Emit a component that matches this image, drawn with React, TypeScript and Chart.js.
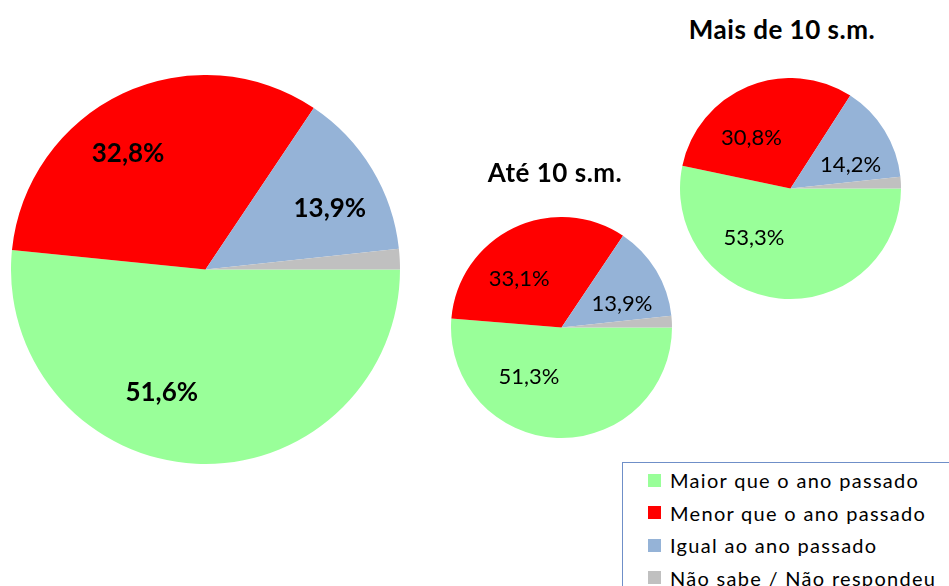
import React, { useEffect, useRef } from "react";
import { Chart, registerables } from "chart.js";

Chart.register(...registerables);

const categories = [
  "Maior que o ano passado",
  "Menor que o ano passado",
  "Igual ao ano passado",
  "Não sabe / Não respondeu",
];
const totalValues = [51.6, 32.8, 13.9, 1.7];
const ate10Values = [51.3, 33.1, 13.9, 1.7];
const mais10Values = [53.3, 30.8, 14.2, 1.7];
const colors = ["#99FF99", "#FF0000", "#95B3D7", "#C0C0C0"];
const titles = ["Até 10 s.m.", "Mais de 10 s.m."];

const FONT = "Lato, 'Open Sans', sans-serif";

// label nudges (fractions of the radius), styling only
const bigNudge = [[-0.19, -0.065], [-0.1, 0.04], [0.04, 0.05]];
const smallNudge = [[-0.27, -0.13], [-0.13, 0.08], [0.05, 0.09]];

const fmt = (v: number) => v.toFixed(1).replace(".", ",") + "%";

type PieProps = {
  values: number[];
  size: number;
  left: number;
  top: number;
  fontSize: number;
  bold: boolean;
  labelRadius: number;
  nudge: number[][];
};

function Pie({ values, size, left, top, fontSize, bold, labelRadius, nudge }: PieProps) {
  const ref = useRef<HTMLCanvasElement | null>(null);
  useEffect(() => {
    if (!ref.current) return;
    const labelPlugin = {
      id: "sliceLabels",
      afterDatasetsDraw(chart: any) {
        const ctx = chart.ctx;
        const meta = chart.getDatasetMeta(0);
        const data = chart.data.datasets[0].data as number[];
        ctx.save();
        ctx.font = `${bold ? "bold" : "normal"} ${fontSize}px ${FONT}`;
        ctx.fillStyle = "#000";
        ctx.textAlign = "center";
        ctx.textBaseline = "middle";
        meta.data.forEach((arc: any, i: number) => {
          if (i >= 3) return;
          const p = arc.getProps(["x", "y", "startAngle", "endAngle", "outerRadius"], true);
          const mid = (p.startAngle + p.endAngle) / 2;
          const r = p.outerRadius;
          const d = r * labelRadius;
          const n = nudge[i] || [0, 0];
          ctx.fillText(
            fmt(data[i]),
            p.x + Math.cos(mid) * d + n[0] * r,
            p.y + Math.sin(mid) * d + n[1] * r
          );
        });
        ctx.restore();
      },
    };
    const chart = new Chart(ref.current, {
      type: "pie",
      data: {
        labels: categories,
        datasets: [
          {
            data: values,
            backgroundColor: colors,
            borderWidth: 0,
          },
        ],
      },
      options: {
        responsive: false,
        animation: false,
        rotation: 90,
        layout: { padding: 0 },
        plugins: {
          legend: { display: false },
          tooltip: { enabled: false },
          title: { display: false },
        },
      },
      plugins: [labelPlugin],
    });
    return () => chart.destroy();
  }, [values, size, fontSize, bold, labelRadius, nudge]);
  return (
    <canvas
      ref={ref}
      width={size}
      height={size}
      style={{ position: "absolute", left, top, width: size, height: size }}
    />
  );
}

const titleStyle: React.CSSProperties = {
  position: "absolute",
  width: 260,
  textAlign: "center",
  fontWeight: "bold",
  fontSize: 26,
  letterSpacing: 0.5,
  lineHeight: "32px",
  color: "#000",
  whiteSpace: "nowrap",
};

export default function App() {
  return (
    <div
      style={{
        position: "fixed",
        left: 0,
        top: 0,
        width: 949,
        height: 586,
        overflow: "hidden",
        background: "#fff",
        fontFamily: FONT,
      }}
    >
      <Pie values={totalValues} size={389} left={10.5} top={75} fontSize={26} bold={true} labelRadius={0.7} nudge={bigNudge} />
      <Pie values={ate10Values} size={221} left={451} top={216.5} fontSize={22} bold={false} labelRadius={0.58} nudge={smallNudge} />
      <Pie values={mais10Values} size={221} left={680} top={77.5} fontSize={22} bold={false} labelRadius={0.58} nudge={smallNudge} />
      <div style={{ ...titleStyle, left: 555 - 130, top: 156 }}>{titles[0]}</div>
      <div style={{ ...titleStyle, left: 782 - 130, top: 13 }}>{titles[1]}</div>
      <div
        style={{
          position: "absolute",
          left: 622,
          top: 462,
          width: 360,
          height: 160,
          border: "1.5px solid #6F8FC8",
          boxSizing: "border-box",
        }}
      >
        {categories.map((c, i) => (
          <div
            key={c}
            style={{
              position: "absolute",
              left: 0,
              top: 1 + i * 32.6,
              height: 32,
              display: "flex",
              alignItems: "center",
              whiteSpace: "nowrap",
            }}
          >
            <span
              style={{
                display: "inline-block",
                width: 13,
                height: 13,
                marginLeft: 25,
                marginRight: 9,
                background: colors[i],
              }}
            />
            <span style={{ fontSize: 20, letterSpacing: 1.3, color: "#000" }}>{c}</span>
          </div>
        ))}
      </div>
    </div>
  );
}
